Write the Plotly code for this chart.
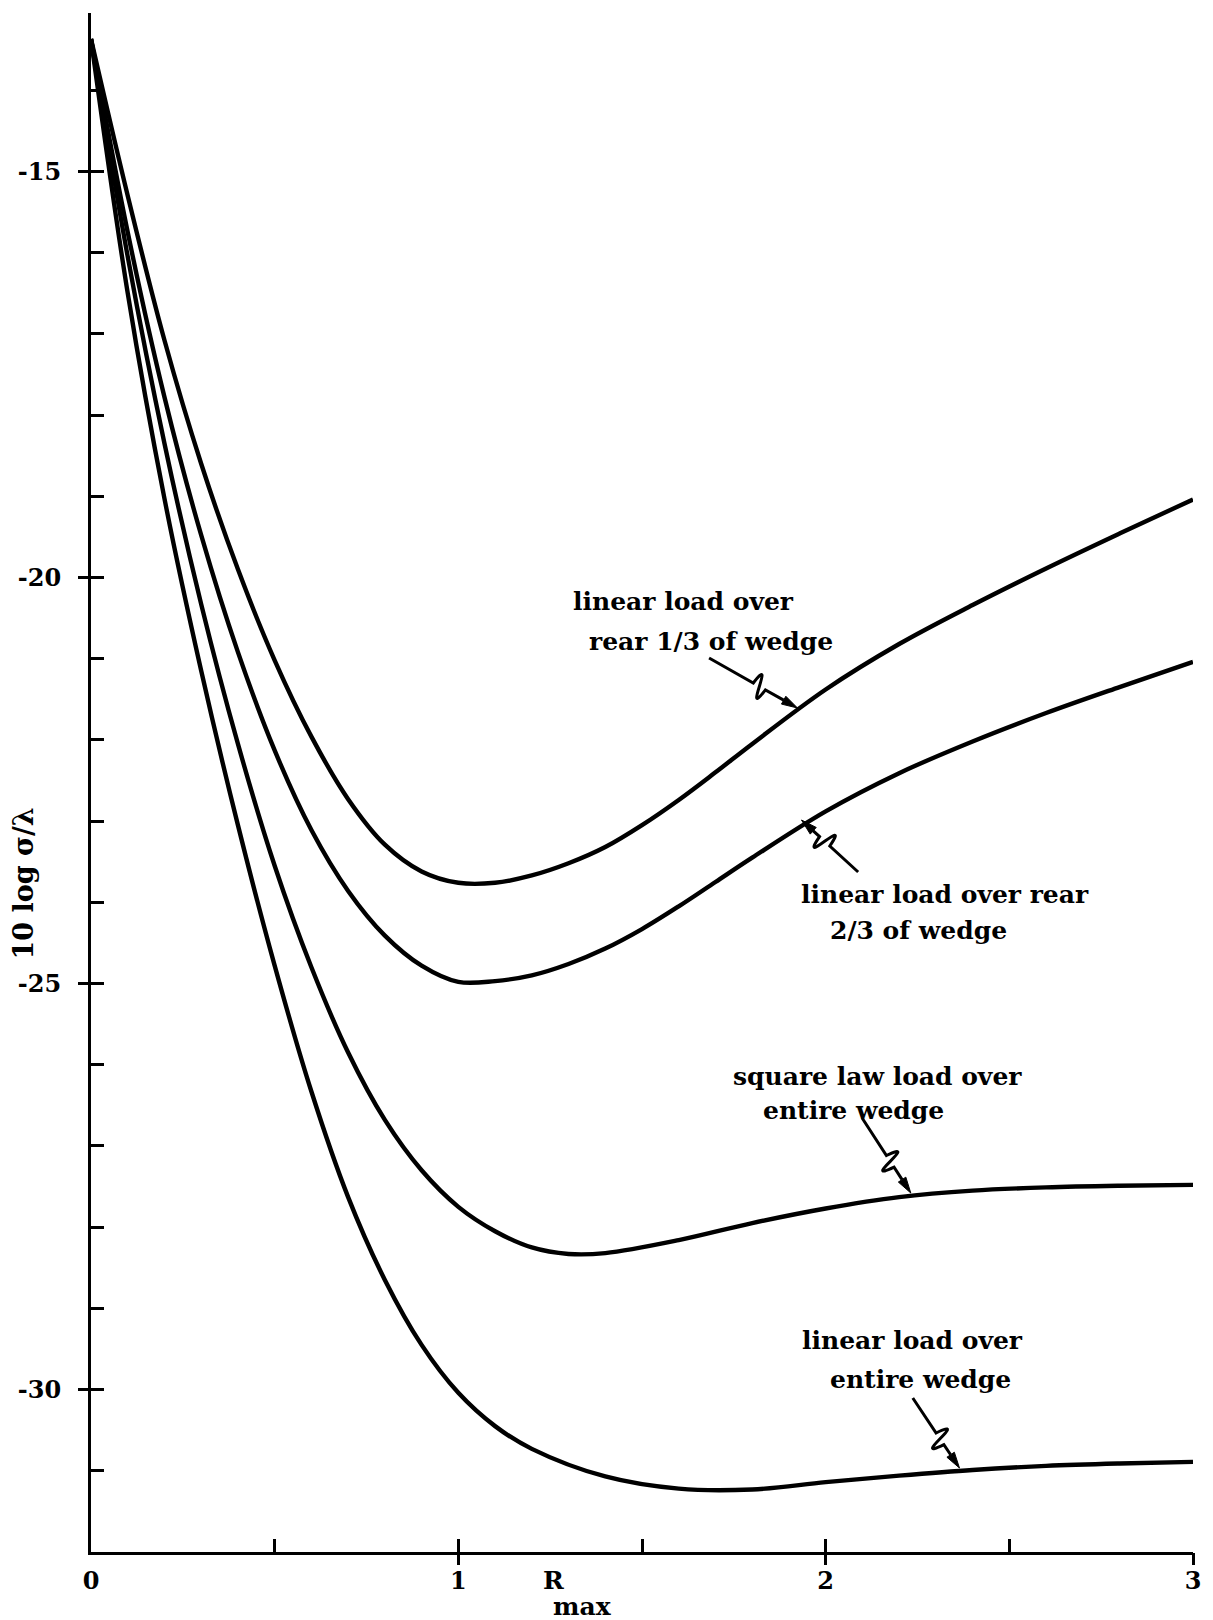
import math
import plotly.graph_objects as go

# ---- curve data: R_max vs 10 log(sigma/lambda) ----
r_rear13 = [0, 0.1, 0.2, 0.3, 0.4, 0.5, 0.6, 0.7, 0.8, 0.9, 1.0, 1.1, 1.2, 1.3, 1.4, 1.5, 1.6, 1.7, 1.8,
            2.0, 2.2, 2.4, 2.6, 2.8, 3.0]
s_rear13 = [-13.37, -15.3, -17.08, -18.6, -19.9, -21.02, -21.96, -22.73, -23.29, -23.62, -23.76, -23.76,
            -23.67, -23.52, -23.32, -23.05, -22.74, -22.4, -22.05, -21.38, -20.82, -20.34, -19.89,
            -19.46, -19.04]

r_rear23 = [0, 0.1, 0.2, 0.3, 0.4, 0.5, 0.6, 0.7, 0.8, 0.9, 1.0, 1.1, 1.2, 1.3, 1.4, 1.5, 1.6, 1.7, 1.8,
            2.0, 2.2, 2.4, 2.6, 2.8, 3.0]
s_rear23 = [-13.37, -15.75, -17.78, -19.48, -20.92, -22.13, -23.11, -23.86, -24.41, -24.78, -24.98,
            -24.97, -24.9, -24.76, -24.57, -24.33, -24.05, -23.75, -23.45, -22.88, -22.41, -22.02,
            -21.67, -21.35, -21.04]

r_square = [0, 0.1, 0.2, 0.3, 0.4, 0.5, 0.6, 0.7, 0.8, 0.9, 1.0, 1.1, 1.2, 1.3, 1.4, 1.6, 1.8, 2.0,
            2.2, 2.4, 2.6, 2.8, 3.0]
s_square = [-13.37, -16.05, -18.35, -20.33, -22.05, -23.55, -24.8, -25.85, -26.68, -27.3, -27.75,
            -28.05, -28.25, -28.33, -28.32, -28.16, -27.95, -27.77, -27.63, -27.55, -27.51, -27.49,
            -27.48]

r_entire = [0, 0.1, 0.2, 0.3, 0.4, 0.5, 0.6, 0.7, 0.8, 0.9, 1.0, 1.1, 1.2, 1.4, 1.6, 1.8, 2.0, 2.2,
            2.4, 2.6, 2.8, 3.0]
s_entire = [-13.37, -16.5, -19.03, -21.15, -23.05, -24.78, -26.33, -27.63, -28.65, -29.45, -30.04,
            -30.45, -30.73, -31.07, -31.22, -31.23, -31.14, -31.06, -30.99, -30.94, -30.91, -30.89]

# ---- axis ticks ----
x_tick_vals = [0, 0.5, 1, 1.5, 2, 2.5, 3]
x_tick_text = ["0", "", "1", "", "2", "", "3"]
y_tick_vals = [-31, -30, -29, -28, -27, -26, -25, -24, -23, -22, -21, -20, -19, -18, -17, -16, -15, -14, -13.05]
y_tick_text = ["", "-30", "", "", "", "", "-25", "", "", "", "", "-20", "", "", "", "", "-15", "", ""]
x_major = [1, 2, 3]
y_major = [-30, -25, -20, -15]

# ---- page geometry ----
W, H = 1213, 1620
ML, MR, MT, MB = 91, 13, 13, 68
X_RANGE = [0, 3]
Y_RANGE = [-32, -13.05]
PW = W - ML - MR
PH = H - MT - MB

FONT = "DejaVu Serif"
INK = "#000000"


def dx(px):
    return X_RANGE[0] + (px - ML) / PW * (X_RANGE[1] - X_RANGE[0])


def dy(py):
    return Y_RANGE[1] - (py - MT) / PH * (Y_RANGE[1] - Y_RANGE[0])


def paper_x(px):
    return (px - ML) / PW


def paper_y(py):
    return (H - MB - py) / PH


fig = go.Figure()

for r, s in [(r_rear13, s_rear13), (r_rear23, s_rear23), (r_square, s_square), (r_entire, s_entire)]:
    fig.add_trace(go.Scatter(
        x=r, y=s, mode="lines",
        line=dict(color=INK, width=4.4, shape="spline", smoothing=1.0),
        showlegend=False, hoverinfo="skip",
    ))

# carrier for the outer halves of the major ticks
fig.add_trace(go.Scatter(x=[1], y=[-20], xaxis="x2", yaxis="y2", mode="markers",
                         marker=dict(opacity=0), showlegend=False, hoverinfo="skip"))


# ---- squiggly leader arrows (drawn in screen pixels, converted to data units) ----
def squiggle(sx, sy, tx, ty, flip=1):
    L = math.hypot(tx - sx, ty - sy)
    ux, uy = (tx - sx) / L, (ty - sy) / L
    nx, ny = uy * flip, -ux * flip
    p1 = (sx + 0.5 * L * ux, sy + 0.5 * L * uy)
    h = 40
    span = 14
    q1 = (p1[0] + h * nx + 0.4 * span * ux, p1[1] + h * ny + 0.4 * span * uy)
    q2 = (p1[0] - h * nx + 0.6 * span * ux, p1[1] - h * ny + 0.6 * span * uy)
    p2 = (p1[0] + span * ux, p1[1] + span * uy)
    head = 16
    hb = (tx - head * ux, ty - head * uy)

    def pt(p):
        return f"{dx(p[0]):.5f},{dy(p[1]):.5f}"

    line_path = f"M {pt((sx, sy))} L {pt(p1)} C {pt(q1)} {pt(q2)} {pt(p2)} L {pt(hb)}"
    w = 4.5
    tri = (f"M {pt((tx, ty))} L {pt((hb[0] - w * uy, hb[1] + w * ux))} "
           f"L {pt((hb[0] + w * uy, hb[1] - w * ux))} Z")
    return [
        dict(type="path", path=line_path, xref="x", yref="y", line=dict(color=INK, width=3)),
        dict(type="path", path=tri, xref="x", yref="y", line=dict(color=INK, width=1), fillcolor=INK),
    ]


shapes = []
shapes += squiggle(713, 658, 802, 708, flip=1)
shapes += squiggle(863, 872, 806, 820, flip=-1)
shapes += squiggle(867, 1118, 916, 1193, flip=1)
shapes += squiggle(918, 1398, 965, 1468, flip=1)

# ---- curve labels ----
label_lines = [
    ("linear load over", 574, 601),
    ("rear 1/3 of wedge", 590, 641),
    ("linear load over rear", 803, 894),
    ("2/3 of wedge", 833, 930),
    ("square law load over", 735, 1076),
    ("entire wedge", 765, 1110),
    ("linear load over", 804, 1340),
    ("entire wedge", 833, 1379),
]
annotations = []
for text, lx, ly in label_lines:
    annotations.append(dict(
        text=text, x=dx(lx), y=dy(ly), xref="x", yref="y",
        xanchor="left", yanchor="middle", showarrow=False,
        font=dict(family=FONT, size=25, color=INK, weight="bold"),
    ))

# axis titles
annotations.append(dict(
    text="10 log σ/λ", x=paper_x(23), y=paper_y(883), xref="paper", yref="paper",
    xanchor="center", yanchor="middle", textangle=-90, showarrow=False,
    font=dict(family=FONT, size=27, color=INK, weight="bold"),
))
annotations.append(dict(
    text="R", x=paper_x(556), y=paper_y(1580), xref="paper", yref="paper",
    xanchor="center", yanchor="middle", showarrow=False,
    font=dict(family=FONT, size=25, color=INK, weight="bold"),
))
annotations.append(dict(
    text="max", x=paper_x(586), y=paper_y(1606), xref="paper", yref="paper",
    xanchor="center", yanchor="middle", showarrow=False,
    font=dict(family=FONT, size=25, color=INK, weight="bold"),
))

tick_font = dict(family=FONT, size=24, color=INK, weight="bold")

fig.update_layout(
    width=W, height=H,
    margin=dict(l=ML, r=MR, t=MT, b=MB, pad=0),
    paper_bgcolor="white", plot_bgcolor="white",
    showlegend=False,
    shapes=shapes,
    annotations=annotations,
    xaxis=dict(
        range=X_RANGE, showgrid=False, zeroline=False,
        showline=True, linecolor=INK, linewidth=3,
        tickmode="array", tickvals=x_tick_vals, ticktext=x_tick_text,
        ticks="inside", ticklen=13, tickwidth=2.5, tickcolor=INK,
        tickfont=tick_font, ticklabelstandoff=5,
    ),
    yaxis=dict(
        range=Y_RANGE, showgrid=False, zeroline=False,
        showline=True, linecolor=INK, linewidth=3,
        tickmode="array", tickvals=y_tick_vals, ticktext=y_tick_text,
        ticks="inside", ticklen=13, tickwidth=2.5, tickcolor=INK,
        tickfont=tick_font, ticklabelstandoff=22,
    ),
    xaxis2=dict(
        range=X_RANGE, overlaying="x", anchor="y", side="bottom",
        showgrid=False, zeroline=False, showline=False,
        tickmode="array", tickvals=x_major, showticklabels=False,
        ticks="outside", ticklen=12, tickwidth=2.5, tickcolor=INK,
    ),
    yaxis2=dict(
        range=Y_RANGE, overlaying="y", anchor="x", side="left",
        showgrid=False, zeroline=False, showline=False,
        tickmode="array", tickvals=y_major, showticklabels=False,
        ticks="outside", ticklen=12, tickwidth=2.5, tickcolor=INK,
    ),
)

fig.write_html("out.html")
